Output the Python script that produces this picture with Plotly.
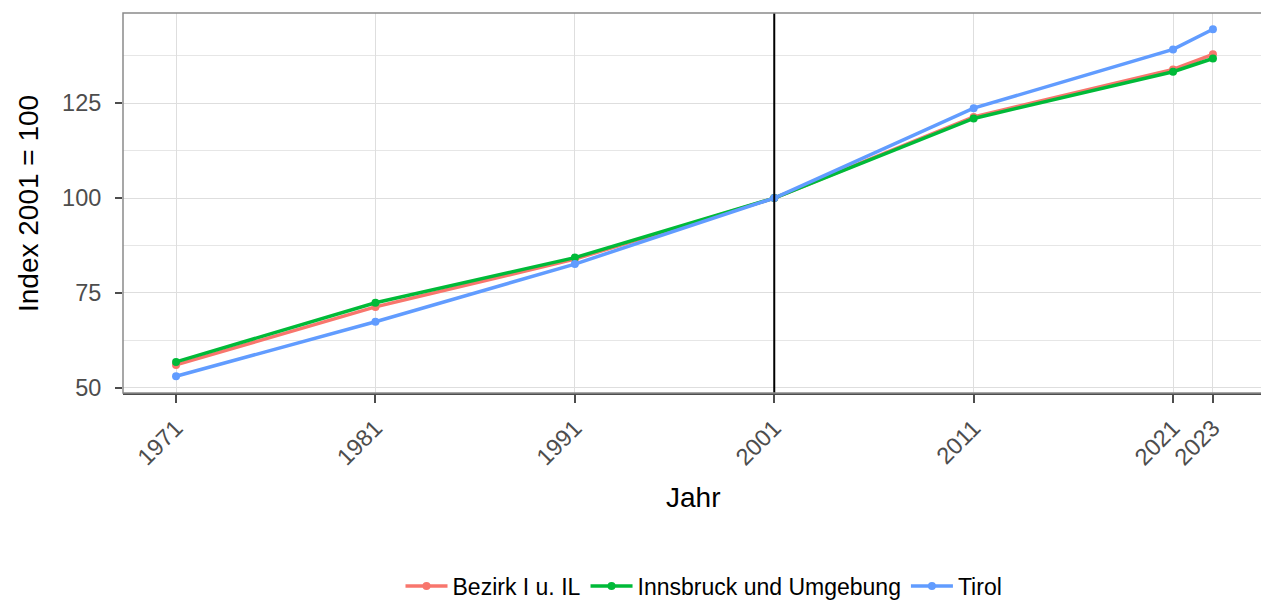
import plotly.graph_objects as go

years = [1971, 1981, 1991, 2001, 2011, 2021, 2023]
bezirk = [56.0, 71.3, 83.9, 100.0, 121.4, 133.9, 137.9]
innsbruck = [56.8, 72.4, 84.3, 100.0, 121.0, 133.3, 136.8]
tirol = [53.0, 67.4, 82.6, 100.0, 123.7, 139.2, 144.5]
series_names = ["Bezirk I u. IL", "Innsbruck und Umgebung", "Tirol"]
series_colors = ["#F8766D", "#00BA38", "#619CFF"]
y_ticks = [50, 75, 100, 125]
ref_year = 2001

FONT = "Liberation Sans, Arial, sans-serif"

fig = go.Figure()
for name, vals, col in zip(series_names, [bezirk, innsbruck, tirol], series_colors):
    fig.add_trace(go.Scatter(
        x=years, y=vals, name=name, mode="lines+markers",
        line=dict(color=col, width=3.5),
        marker=dict(color=col, size=8),
    ))

fig.add_vline(x=ref_year, line=dict(color="black", width=2), layer="above")

# panel border (top/left gray)
fig.add_shape(type="rect", xref="paper", yref="paper", x0=0, x1=1.01, y0=0, y1=1,
              line=dict(color="#8a8a8a", width=1.5), layer="above")

fig.update_layout(
    width=1261, height=600,
    margin=dict(l=123, r=0, t=13, b=207, autoexpand=False),
    paper_bgcolor="white", plot_bgcolor="white",
    font=dict(family=FONT, size=22, color="#4d4d4d"),
    showlegend=True,
    legend=dict(orientation="h", x=(704 - 123) / 1138, xanchor="center", y=-0.508, yanchor="middle",
                font=dict(size=23, color="black"), itemwidth=42,
                traceorder="normal"),
    xaxis=dict(
        range=[1968.34, 2025.41], tickmode="array", tickvals=years,
        ticktext=[str(y) for y in years], tickangle=-45,
        showgrid=True, gridcolor="#dedede", gridwidth=1,
        zeroline=False, showline=True, linecolor="#4d4d4d", linewidth=2,
        ticks="outside", ticklen=8, tickcolor="#4d4d4d", tickwidth=1.5,
        tickfont=dict(size=23.5, color="#4d4d4d"),
        ticklabelstandoff=2,
    ),
    yaxis=dict(
        range=[48.6, 148.8], tickmode="array", tickvals=y_ticks,
        showgrid=True, gridcolor="#dedede", gridwidth=1,
        minor=dict(tickvals=[62.5, 87.5, 112.5, 137.5], showgrid=True,
                   gridcolor="#e6e6e6", gridwidth=1, ticks=""),
        zeroline=False, showline=False,
        ticks="outside", ticklen=7, tickcolor="#4d4d4d", tickwidth=1.5,
        tickfont=dict(size=23.5, color="#4d4d4d"),
        ticklabelstandoff=9,
    ),
    annotations=[
        dict(text="Jahr", xref="paper", yref="paper", x=(693 - 123) / 1138, y=(393 - 497) / 380,
             xanchor="center", yanchor="middle", showarrow=False,
             font=dict(size=28, color="black")),
        dict(text="Index 2001 = 100", xref="paper", yref="paper", x=(28 - 123) / 1138,
             y=(393 - 204) / 380, xanchor="center", yanchor="middle", textangle=-90,
             showarrow=False, font=dict(size=28, color="black")),
    ],
)

fig.write_html("out.html", config={"displayModeBar": False},
               post_script="document.body.style.margin='0';document.body.style.overflow='hidden';")
